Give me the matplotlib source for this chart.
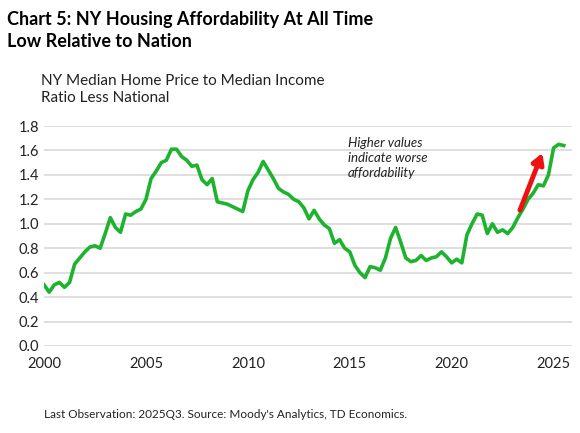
import numpy as np
import matplotlib; matplotlib.use('Agg')
import matplotlib.pyplot as plt

# quarterly, 2000Q1 .. 2025Q3
ratio = [0.50, 0.44, 0.50, 0.52, 0.48, 0.52,
         0.67, 0.72, 0.77, 0.81,
         0.82, 0.80, 0.92, 1.05,
         0.97, 0.93, 1.08, 1.07, 1.10,
         1.12, 1.20, 1.37, 1.43, 1.50, 1.52,
         1.61, 1.61, 1.55, 1.52,
         1.47, 1.48, 1.36, 1.32,
         1.37, 1.18, 1.17, 1.16,
         1.14, 1.12, 1.10,
         1.27, 1.36, 1.42, 1.51,
         1.44, 1.37, 1.29, 1.26, 1.24,
         1.20, 1.18, 1.13, 1.04,
         1.11, 1.04, 0.99, 0.96,
         0.84, 0.87, 0.80, 0.77,
         0.66, 0.60, 0.56, 0.65,
         0.64, 0.62, 0.72, 0.88, 0.97,
         0.85, 0.72, 0.69, 0.70,
         0.74, 0.70, 0.72, 0.73, 0.77,
         0.73, 0.68, 0.71, 0.68,
         0.91, 1.00, 1.08, 1.07,
         0.92, 1.00, 0.93, 0.95, 0.92,
         0.97, 1.05, 1.12, 1.20, 1.25, 1.32,
         1.31, 1.40, 1.62, 1.65, 1.64]
dates = 2000 + np.arange(len(ratio)) * 0.25
dates = dates - dates[-1] + 2025.5

plt.rcParams['font.family'] = ['Lato', 'DejaVu Sans']
fig = plt.figure(figsize=(5.8, 4.33), dpi=100)
ax = fig.add_axes([0.076, 0.201, 0.91, 0.508])

fig.text(0.012, 0.975, "Chart 5: NY Housing Affordability At All Time\nLow Relative to Nation",
         fontsize=13, fontweight='bold', va='top', linespacing=1.35)
fig.text(0.07, 0.83, "NY Median Home Price to Median Income\nRatio Less National",
         fontsize=11, va='top', color='#222222', linespacing=1.35)
fig.text(0.075, 0.035, "Last Observation: 2025Q3. Source: Moody's Analytics, TD Economics.",
         fontsize=8.5, color='#222222')

ax.plot(dates, ratio, color='#1db32e', lw=2.6, zorder=3)
ax.set_xlim(2000, 2025.9)
ax.set_ylim(0, 1.8)
ax.set_yticks(np.arange(0, 1.81, 0.2))
ax.set_yticklabels([f"{v:.1f}" for v in np.arange(0, 1.81, 0.2)])
ax.set_xticks([2000, 2005, 2010, 2015, 2020, 2025])
ax.grid(axis='y', color='#d9d9d9', lw=1.2)
ax.set_axisbelow(True)
for s in ax.spines.values():
    s.set_visible(False)
ax.tick_params(length=0, labelsize=10.5, colors='#222222')
ax.tick_params(axis='x', pad=8)

ax.text(2014.9, 1.71, "Higher values\nindicate worse\naffordability",
        fontsize=9.5, style='italic', va='top', color='#222222', linespacing=1.3)
ax.annotate("", xy=(2024.5, 1.6), xytext=(2023.3, 1.09),
            arrowprops=dict(arrowstyle='-|>,head_width=0.35,head_length=0.6',
                            color='#ee1111', lw=3.5))

fig.savefig("out.png", dpi=100)
